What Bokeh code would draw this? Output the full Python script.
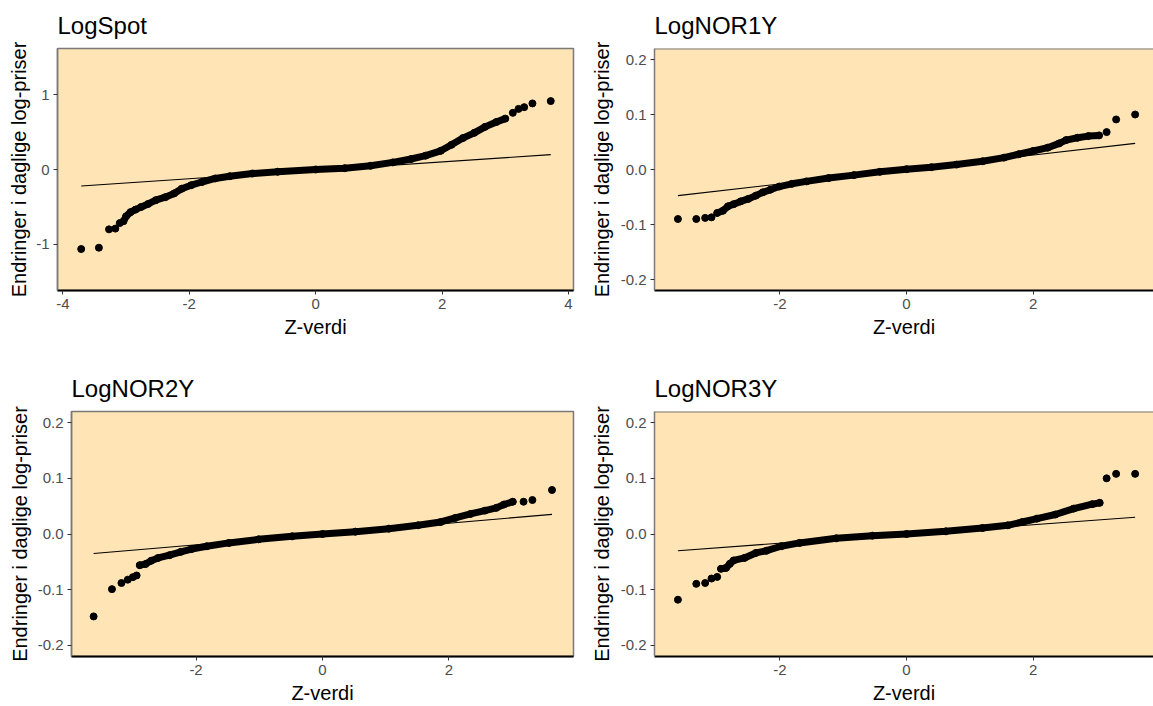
from bokeh.plotting import figure
from bokeh.layouts import row, column
from bokeh.models import Range1d, FixedTicker, NumeralTickFormatter, Span, ColumnDataSource
from bokeh.embed import file_html
from bokeh.resources import INLINE

# ---------------- data ----------------
titles = ["LogSpot", "LogNOR1Y", "LogNOR2Y", "LogNOR3Y"]
x_label = "Z-verdi"
y_label = "Endringer i daglige log-priser"

spot_z = [-3.71, -3.43, -3.27, -3.17, -3.10, -3.04,
          -3.00, -2.93, -2.85, -2.76, -2.65, -2.53, -2.38, -2.24, -2.12, -1.97, -1.80, -1.59,
          -1.36, -1.00, -0.60, 0.00, 0.46, 0.87, 1.22, 1.51, 1.74, 1.98, 2.15, 2.33, 2.51,
          2.68, 2.86, 3.00,
          3.12, 3.21, 3.30, 3.43, 3.72]
spot_y = [-1.063, -1.045, -0.800, -0.790, -0.716, -0.690,
          -0.626, -0.570, -0.536, -0.500, -0.460, -0.410, -0.370, -0.320, -0.257, -0.210, -0.167, -0.120,
          -0.090, -0.054, -0.030, 0.000, 0.018, 0.050, 0.095, 0.140, 0.185, 0.250, 0.330, 0.420, 0.490,
          0.570, 0.635, 0.680,
          0.757, 0.810, 0.833, 0.883, 0.914]

nor1_z = [-3.61, -3.32, -3.18, -3.08,
          -2.99, -2.90, -2.82, -2.73, -2.62, -2.50, -2.38, -2.27, -2.15, -2.01, -1.81, -1.58, -1.23,
          -0.83, -0.42, 0.00, 0.39, 0.79, 1.20, 1.54, 1.77, 2.00, 2.23, 2.41, 2.52, 2.70, 2.87, 3.04,
          3.16, 3.31, 3.61]
nor1_y = [-0.090, -0.090, -0.088, -0.087,
          -0.079, -0.075, -0.067, -0.063, -0.058, -0.0535, -0.0475, -0.0415, -0.0367, -0.031, -0.026, -0.0216, -0.0156,
          -0.0102, -0.0042, 0.0006, 0.0042, 0.009, 0.015, 0.0216, 0.0277, 0.0337, 0.0397, 0.0475, 0.0535, 0.0577, 0.0607, 0.062,
          0.068, 0.091, 0.100]

nor2_z = [-3.62, -3.33, -3.18, -3.08, -3.00, -2.94,
          -2.89, -2.80, -2.71, -2.60, -2.42, -2.24, -2.07, -1.83, -1.48, -1.01, -0.48, 0.00, 0.52,
          1.05, 1.51, 1.87, 2.10, 2.34, 2.57, 2.75, 2.87, 3.01,
          3.18, 3.32, 3.63]
nor2_y = [-0.148, -0.099, -0.088, -0.082, -0.0775, -0.0745,
          -0.056, -0.054, -0.048, -0.043, -0.038, -0.032, -0.027, -0.022, -0.016, -0.0096, -0.0042, 0.000, 0.0042,
          0.0096, 0.0156, 0.0216, 0.0288, 0.036, 0.042, 0.047, 0.053, 0.058,
          0.058, 0.061, 0.079]

nor3_z = [-3.61, -3.32, -3.18, -3.08, -2.99,
          -2.93, -2.85, -2.79, -2.73, -2.56, -2.38, -2.21, -1.98, -1.69, -1.11, -0.54, 0.00, 0.62,
          1.20, 1.60, 1.83, 2.06, 2.35, 2.64, 2.93, 3.05,
          3.16, 3.31, 3.61]
nor3_y = [-0.118, -0.0895, -0.088, -0.080, -0.077,
          -0.0625, -0.061, -0.0535, -0.0475, -0.043, -0.034, -0.030, -0.022, -0.016, -0.0078, -0.003, 0.000, 0.0048,
          0.0108, 0.0156, 0.0216, 0.0276, 0.035, 0.0456, 0.0535, 0.056,
          0.100, 0.108, 0.108]

# z-interval where the sample points are packed into a continuous band
dense_lo = [-3.04, -2.99, -2.89, -2.93]
dense_hi = [3.00, 3.04, 3.01, 3.05]

# reference (qq) line: intercept and slope
qq_intercept = [-0.011, 0.0, 0.0, 0.0]
qq_slope = [0.0563, 0.01316, 0.0097, 0.0083]

# ---------------- styling ----------------
FONT = "Liberation Sans"
PANEL_BG = "#FFE4B5"
BORDER = "#7a7a7a"


def make_panel(i, z, y, width, height, mb_left, mb_right, mb_top, mb_bottom,
               x_range, y_range, xticks, yticks, yfmt, ylab_standoff, xlab_standoff,
               open_right=False):
    p = figure(width=width, height=height, output_backend="svg", toolbar_location=None,
               x_range=Range1d(*x_range), y_range=Range1d(*y_range),
               min_border_left=mb_left, min_border_right=mb_right,
               min_border_top=mb_top, min_border_bottom=mb_bottom,
               title=titles[i])
    p.background_fill_color = PANEL_BG
    p.border_fill_color = "white"
    p.grid.visible = False

    p.title.text_font = FONT
    p.title.text_font_size = "24px"
    p.title.text_font_style = "normal"
    p.title.text_color = "black"
    p.title.standoff = 19

    if open_right:
        p.outline_line_color = None
        p.add_layout(Span(location=y_range[1], dimension="width",
                          line_color=BORDER, line_width=2))
    else:
        p.outline_line_color = BORDER
        p.outline_line_width = 1.5

    for ax in (p.xaxis[0], p.yaxis[0]):
        ax.major_label_text_font = FONT
        ax.major_label_text_font_size = "15px"
        ax.major_label_text_color = "#4D4D4D"
        ax.axis_label_text_font = FONT
        ax.axis_label_text_font_size = "20px"
        ax.axis_label_text_font_style = "normal"
        ax.axis_label_text_color = "black"
        ax.major_tick_in = 0
        ax.major_tick_out = 4
        ax.major_tick_line_color = "#333333"
        ax.minor_tick_line_color = None
        ax.major_label_standoff = 4

    p.xaxis.axis_label = x_label
    p.yaxis.axis_label = y_label
    p.xaxis.ticker = FixedTicker(ticks=xticks)
    p.yaxis.ticker = FixedTicker(ticks=yticks)
    p.yaxis.formatter = NumeralTickFormatter(format=yfmt)
    p.xaxis.formatter = NumeralTickFormatter(format="0")
    p.xaxis.axis_line_color = "black"
    p.xaxis.axis_line_width = 2
    p.yaxis.axis_line_color = BORDER
    p.yaxis.axis_line_width = 1.5
    p.yaxis.axis_label_standoff = ylab_standoff
    p.xaxis.axis_label_standoff = xlab_standoff

    # reference line from the smallest to the largest theoretical quantile
    zmin, zmax = min(z), max(z)
    p.line([zmin, zmax],
           [qq_intercept[i] + qq_slope[i] * zmin, qq_intercept[i] + qq_slope[i] * zmax],
           line_color="black", line_width=1.1)

    # dense body drawn as a thick band through the read quantiles
    bz = [a for a in z if dense_lo[i] <= a <= dense_hi[i]]
    by = [b for a, b in zip(z, y) if dense_lo[i] <= a <= dense_hi[i]]
    p.line(bz, by, line_color="black", line_width=7, line_join="round", line_cap="round")

    src = ColumnDataSource(dict(z=z, y=y))
    p.scatter("z", "y", source=src, size=7, fill_color="black", line_color="black")
    return p


ROW1_H = 350
ROW2_H = 356
LEFT_W = 585
RIGHT_W = 568

p1 = make_panel(0, spot_z, spot_y, LEFT_W, ROW1_H, 57, 12, 45, 60,
                (-4.085, 4.08), (-1.617, 1.617), [-4, -2, 0, 2, 4], [-1, 0, 1], "0", 3, 4)
p2 = make_panel(1, nor1_z, nor1_y, RIGHT_W, ROW1_H, 69, 0, 45, 60,
                (-3.98, 3.90), (-0.22, 0.22), [-2, 0, 2], [-0.2, -0.1, 0.0, 0.1, 0.2], "0.0", 5, 4,
                open_right=True)
p3 = make_panel(2, nor2_z, nor2_y, LEFT_W, ROW2_H, 71, 12, 61, 50,
                (-3.97, 3.97), (-0.22, 0.22), [-2, 0, 2], [-0.2, -0.1, 0.0, 0.1, 0.2], "0.0", 4, 4)
p4 = make_panel(3, nor3_z, nor3_y, RIGHT_W, ROW2_H, 69, 0, 61, 50,
                (-3.98, 3.90), (-0.22, 0.22), [-2, 0, 2], [-0.2, -0.1, 0.0, 0.1, 0.2], "0.0", 5, 4,
                open_right=True)

layout = column(row(p1, p2), row(p3, p4))
open("out.html", "w").write(file_html(layout, INLINE))
